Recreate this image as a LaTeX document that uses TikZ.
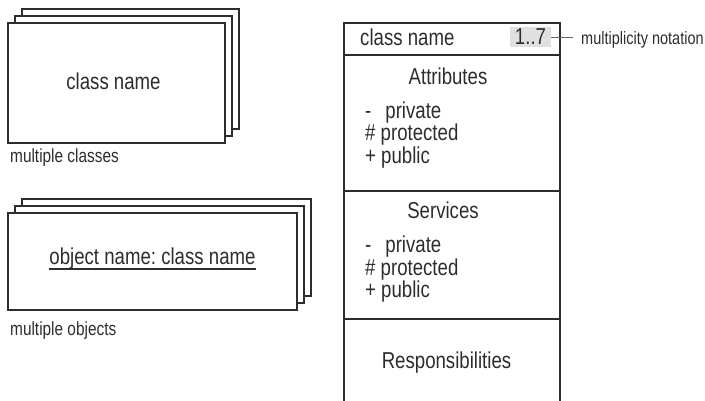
\documentclass[tikz,border=0pt]{standalone}
\usepackage{fontspec}
\setmainfont{Liberation Sans}[FakeStretch=0.81]
\frenchspacing
\usetikzlibrary{positioning,calc}
\definecolor{InkGray}{RGB}{45,45,45}
\definecolor{TagGray}{RGB}{224,224,224}
\tikzset{
  sheet/.style={draw=InkGray,fill=white,line width=1.1pt},
  rule/.style={draw=InkGray,line width=1.1pt},
  big/.style={font=\fontsize{23}{27}\selectfont,text=InkGray,inner sep=0pt},
  sheetcap/.style={font=\fontsize{19}{23}\selectfont,text=InkGray,inner sep=0pt},
  note/.style={font=\fontsize{17.9}{21}\selectfont,text=InkGray,inner sep=0pt},
}
\begin{document}
\begin{tikzpicture}[x=1pt,y=-1pt]
\useasboundingbox (0,0) rectangle (705,401);
% stacked classes
\foreach \d in {14,7,0}
  \draw[sheet] (8+\d,23-\d) rectangle (225+\d,143-\d);
\node[big,anchor=base] (cls) at (113.5,90) {class name};
\node[sheetcap,anchor=base west] (clscap) at (10,163) {multiple classes};
% stacked objects
\foreach \d in {14,7,0}
  \draw[sheet] (8+\d,213-\d) rectangle (297+\d,310-\d);
\node[big,anchor=base] (obj) at (152.5,265) {object name: class name};
\draw[rule] ([yshift=-4pt]obj.base west) -- ([yshift=-4pt]obj.base east);
\node[sheetcap,anchor=base west] (objcap) at (10,335) {multiple objects};
% class box with compartments
\draw[rule] (344,401) -- (344,23) -- (560,23) -- (560,401);
\foreach \y in {55,191,319} \draw[rule] (344,\y) -- (560,\y);
\node[big,anchor=base west] (name) at (360,46) {class name};
\node[big,fill=TagGray,minimum width=41pt,minimum height=20pt] (mult) at (530.5,37) {1..7};
\node[note,anchor=base west] (multnote) at (581,45) {multiplicity notation};
\draw[draw=black!60,line width=0.7pt,shorten >=8pt] (mult.east) -- (mult.east -| multnote.west);
\node[big,anchor=base] (attr) at (448,85) {Attributes};
\foreach \t [count=\i] in {{-\hspace{14pt}private},{\# protected},{+ public}}
  \node[big,anchor=base west] (attr\i) at (365,96+22.5*\i) {\t};
\node[big,anchor=base] (serv) at (443,219) {Services};
\foreach \t [count=\i] in {{-\hspace{14pt}private},{\# protected},{+ public}}
  \node[big,anchor=base west] (serv\i) at (365,230.5+22.5*\i) {\t};
\node[big,anchor=base] (resp) at (446.5,368) {Responsibilities};
\end{tikzpicture}
\end{document}
